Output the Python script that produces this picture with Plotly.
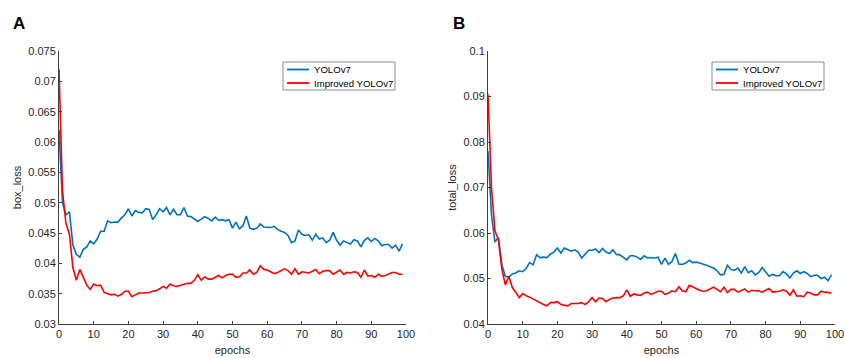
import plotly.graph_objects as go

epochs = list(range(100))

box_yolov7 = [0.062, 0.050, 0.048, 0.0485, 0.043, 0.0415, 0.041, 0.0423, 0.0427, 0.0437,
              0.0432, 0.044, 0.0453, 0.0453, 0.047, 0.0467, 0.0468, 0.0468, 0.0475, 0.048,
              0.049, 0.0478, 0.0487, 0.0484, 0.0483, 0.049, 0.0489, 0.0472, 0.048, 0.049,
              0.0485, 0.0492, 0.048, 0.0489, 0.048, 0.048, 0.0492, 0.0478, 0.0477, 0.0473,
              0.0469, 0.0473, 0.0477, 0.0474, 0.047, 0.0476, 0.0471, 0.0472, 0.047, 0.0472,
              0.0458, 0.0468, 0.0457, 0.0462, 0.0478, 0.0458, 0.0456, 0.0458, 0.0465, 0.046,
              0.046, 0.0459, 0.0461, 0.0456, 0.0453, 0.0451, 0.0446, 0.0434, 0.0437, 0.0455,
              0.0448, 0.0446, 0.0447, 0.0438, 0.0448, 0.044, 0.0442, 0.0434, 0.0438, 0.0451,
              0.0438, 0.043, 0.0437, 0.0434, 0.0432, 0.0439, 0.0437, 0.0427, 0.0438, 0.0442,
              0.0436, 0.0441, 0.0437, 0.0429, 0.0431, 0.0431, 0.0425, 0.043, 0.042, 0.0432]

box_improved = [0.072, 0.052, 0.0466, 0.0448, 0.0393, 0.0372, 0.039, 0.0378, 0.0364, 0.0357,
                0.0366, 0.0363, 0.0364, 0.0352, 0.035, 0.0348, 0.0349, 0.0346, 0.0349, 0.0354,
                0.0354, 0.0345, 0.0348, 0.0351, 0.0351, 0.0351, 0.0352, 0.0354, 0.0355, 0.0358,
                0.0362, 0.0359, 0.0366, 0.0363, 0.0362, 0.0364, 0.0366, 0.0367, 0.0367, 0.0372,
                0.0381, 0.0372, 0.0378, 0.0374, 0.0374, 0.0377, 0.038, 0.0376, 0.038, 0.0382,
                0.0382, 0.0377, 0.0378, 0.0384, 0.0384, 0.0389, 0.0382, 0.0385, 0.0396, 0.039,
                0.0389, 0.0386, 0.0383, 0.0385, 0.0388, 0.0391, 0.0388, 0.0382, 0.0391, 0.0382,
                0.0386, 0.0385, 0.0384, 0.0387, 0.039, 0.0383, 0.0387, 0.0388, 0.0388, 0.0382,
                0.0385, 0.0389, 0.0382, 0.0385, 0.0384, 0.0386, 0.0385, 0.0377, 0.0389, 0.0379,
                0.038, 0.0377, 0.0382, 0.0379, 0.038, 0.0382, 0.0385, 0.0385, 0.0382, 0.0382]

total_yolov7 = [0.078, 0.064, 0.058, 0.059, 0.053, 0.0505, 0.0503, 0.051, 0.0512, 0.0517,
                0.0515, 0.0522, 0.0535, 0.053, 0.0552, 0.0546, 0.0547, 0.0546, 0.0554, 0.0558,
                0.0567, 0.0556, 0.0567, 0.0564, 0.056, 0.0563, 0.0558, 0.0545, 0.0553, 0.0562,
                0.0562, 0.0565, 0.0557, 0.0566, 0.0558, 0.0555, 0.0563, 0.0553, 0.0552, 0.0547,
                0.0541, 0.055, 0.055, 0.0547, 0.0542, 0.055, 0.0545, 0.0546, 0.0545, 0.0547,
                0.0531, 0.0545, 0.0531, 0.0537, 0.0555, 0.0532, 0.0531, 0.0534, 0.054, 0.0535,
                0.0536, 0.0534, 0.0532, 0.0529, 0.0526, 0.0523, 0.0517, 0.0508, 0.0509, 0.0529,
                0.052, 0.0518, 0.0523, 0.0512, 0.0526, 0.0513, 0.0517, 0.0508, 0.0513, 0.0524,
                0.0515, 0.0505, 0.0509, 0.0506, 0.0506, 0.0515, 0.051, 0.0501, 0.0512, 0.0517,
                0.0511, 0.0515, 0.0511, 0.0504, 0.0507, 0.0507, 0.05, 0.0503, 0.0495, 0.0508]

total_improved = [0.0905, 0.07, 0.0605, 0.0585, 0.052, 0.0486, 0.0505, 0.048, 0.047, 0.0458,
                  0.0467, 0.0462, 0.0459, 0.0455, 0.045, 0.0447, 0.0443, 0.044, 0.0447, 0.0447,
                  0.0449, 0.0443, 0.0441, 0.044, 0.0445, 0.0445, 0.0445, 0.0447, 0.0443, 0.0449,
                  0.0458, 0.0449, 0.0457, 0.0456, 0.0449, 0.0454, 0.0457, 0.0458, 0.0458, 0.0462,
                  0.0475, 0.0461, 0.0466, 0.0464, 0.0463, 0.0468, 0.047, 0.0465, 0.0468, 0.0472,
                  0.0472, 0.0465, 0.0468, 0.0473, 0.0471, 0.0482, 0.0473, 0.0471, 0.0485, 0.0482,
                  0.0478, 0.0474, 0.0472, 0.0473, 0.0477, 0.0481, 0.0476, 0.0471, 0.0481, 0.0469,
                  0.0476, 0.0476, 0.047, 0.0473, 0.0477, 0.047, 0.0474, 0.0473, 0.0473, 0.047,
                  0.0474, 0.0478, 0.047, 0.0471, 0.0472, 0.0475, 0.0472, 0.0463, 0.0475, 0.0461,
                  0.0462, 0.046, 0.047, 0.0468, 0.0464, 0.0464, 0.0472, 0.047, 0.0469, 0.0468]

series_names = ["YOLOv7", "Improved YOLOv7"]
colors = ["#0072BD", "#FF0000"]

box_ticks = [0.03, 0.035, 0.04, 0.045, 0.05, 0.055, 0.06, 0.065, 0.07, 0.075]
box_ticktext = ["0.03", "0.035", "0.04", "0.045", "0.05", "0.055", "0.06", "0.065", "0.07", "0.075"]
total_ticks = [0.04, 0.05, 0.06, 0.07, 0.08, 0.09, 0.1]
total_ticktext = ["0.04", "0.05", "0.06", "0.07", "0.08", "0.09", "0.1"]
x_ticks = [0, 10, 20, 30, 40, 50, 60, 70, 80, 90, 100]

FONT = "Liberation Sans, Arial, sans-serif"
AXC = "#404040"
W, H = 845, 358

fig = go.Figure()
for i, (ys, name) in enumerate(zip([box_yolov7, box_improved], series_names)):
    fig.add_trace(go.Scatter(x=epochs, y=ys, mode="lines", name=name,
                             line=dict(color=colors[i], width=1.6),
                             xaxis="x", yaxis="y", showlegend=False))
for i, (ys, name) in enumerate(zip([total_yolov7, total_improved], series_names)):
    fig.add_trace(go.Scatter(x=epochs, y=ys, mode="lines", name=name,
                             line=dict(color=colors[i], width=1.6),
                             xaxis="x2", yaxis="y2", showlegend=False))

ydom = [1 - 324 / H, 1 - 51 / H]
common_ax = dict(showgrid=False, zeroline=False, showline=True, linecolor=AXC, linewidth=1,
                 ticks="inside", ticklen=3, tickcolor=AXC, tickwidth=1, automargin=False,
                 tickfont=dict(family=FONT, size=11, color="#262626"), mirror=False)
title_font = dict(family=FONT, size=11, color="#262626")

# Boxed legends drawn as layout decorations (legend box, line samples, labels)
shapes = []
annotations = []
for lx in (283, 712):
    shapes.append(dict(type="rect", xref="paper", yref="paper",
                       x0=lx / W, x1=(lx + 112) / W, y0=1 - 90 / H, y1=1 - 62 / H,
                       line=dict(color="#8c8c8c", width=1), fillcolor="white", layer="above"))
    for j, (name, col) in enumerate(zip(series_names, colors)):
        yy = 1 - (69.5 + 13.5 * j) / H
        shapes.append(dict(type="line", xref="paper", yref="paper",
                           x0=(lx + 4) / W, x1=(lx + 26) / W, y0=yy, y1=yy,
                           line=dict(color=col, width=1.8), layer="above"))
        annotations.append(dict(text=name, x=(lx + 29) / W, y=yy, xref="paper", yref="paper",
                                xanchor="left", yanchor="middle", showarrow=False,
                                font=dict(family=FONT, size=9.6, color="black")))

annotations += [
    dict(text="<b>A</b>", x=11 / W, y=1 - 12 / H, xref="paper", yref="paper",
         xanchor="left", yanchor="top", showarrow=False,
         font=dict(family=FONT, size=17, color="black")),
    dict(text="<b>B</b>", x=451 / W, y=1 - 12 / H, xref="paper", yref="paper",
         xanchor="left", yanchor="top", showarrow=False,
         font=dict(family=FONT, size=17, color="black")),
]

fig.update_layout(
    width=W, height=H,
    margin=dict(l=0, r=0, t=0, b=0, autoexpand=False),
    paper_bgcolor="white", plot_bgcolor="white",
    showlegend=False,
    xaxis=dict(domain=[59 / W, 406 / W], range=[0, 100], tickvals=x_ticks,
               title=dict(text="epochs", font=title_font, standoff=7),
               anchor="y", **common_ax),
    yaxis=dict(domain=ydom, range=[0.03, 0.075], tickvals=box_ticks, ticktext=box_ticktext,
               title=dict(text="box_loss", font=title_font, standoff=4),
               anchor="x", **common_ax),
    xaxis2=dict(domain=[488 / W, 835 / W], range=[0, 100], tickvals=x_ticks,
                title=dict(text="epochs", font=title_font, standoff=7),
                anchor="y2", **common_ax),
    yaxis2=dict(domain=ydom, range=[0.04, 0.1], tickvals=total_ticks, ticktext=total_ticktext,
                title=dict(text="total_loss", font=title_font, standoff=4),
                anchor="x2", **common_ax),
    shapes=shapes,
    annotations=annotations,
)

fig.write_html("out.html", config={"displayModeBar": False},
               post_script="document.body.style.margin='0px';")
